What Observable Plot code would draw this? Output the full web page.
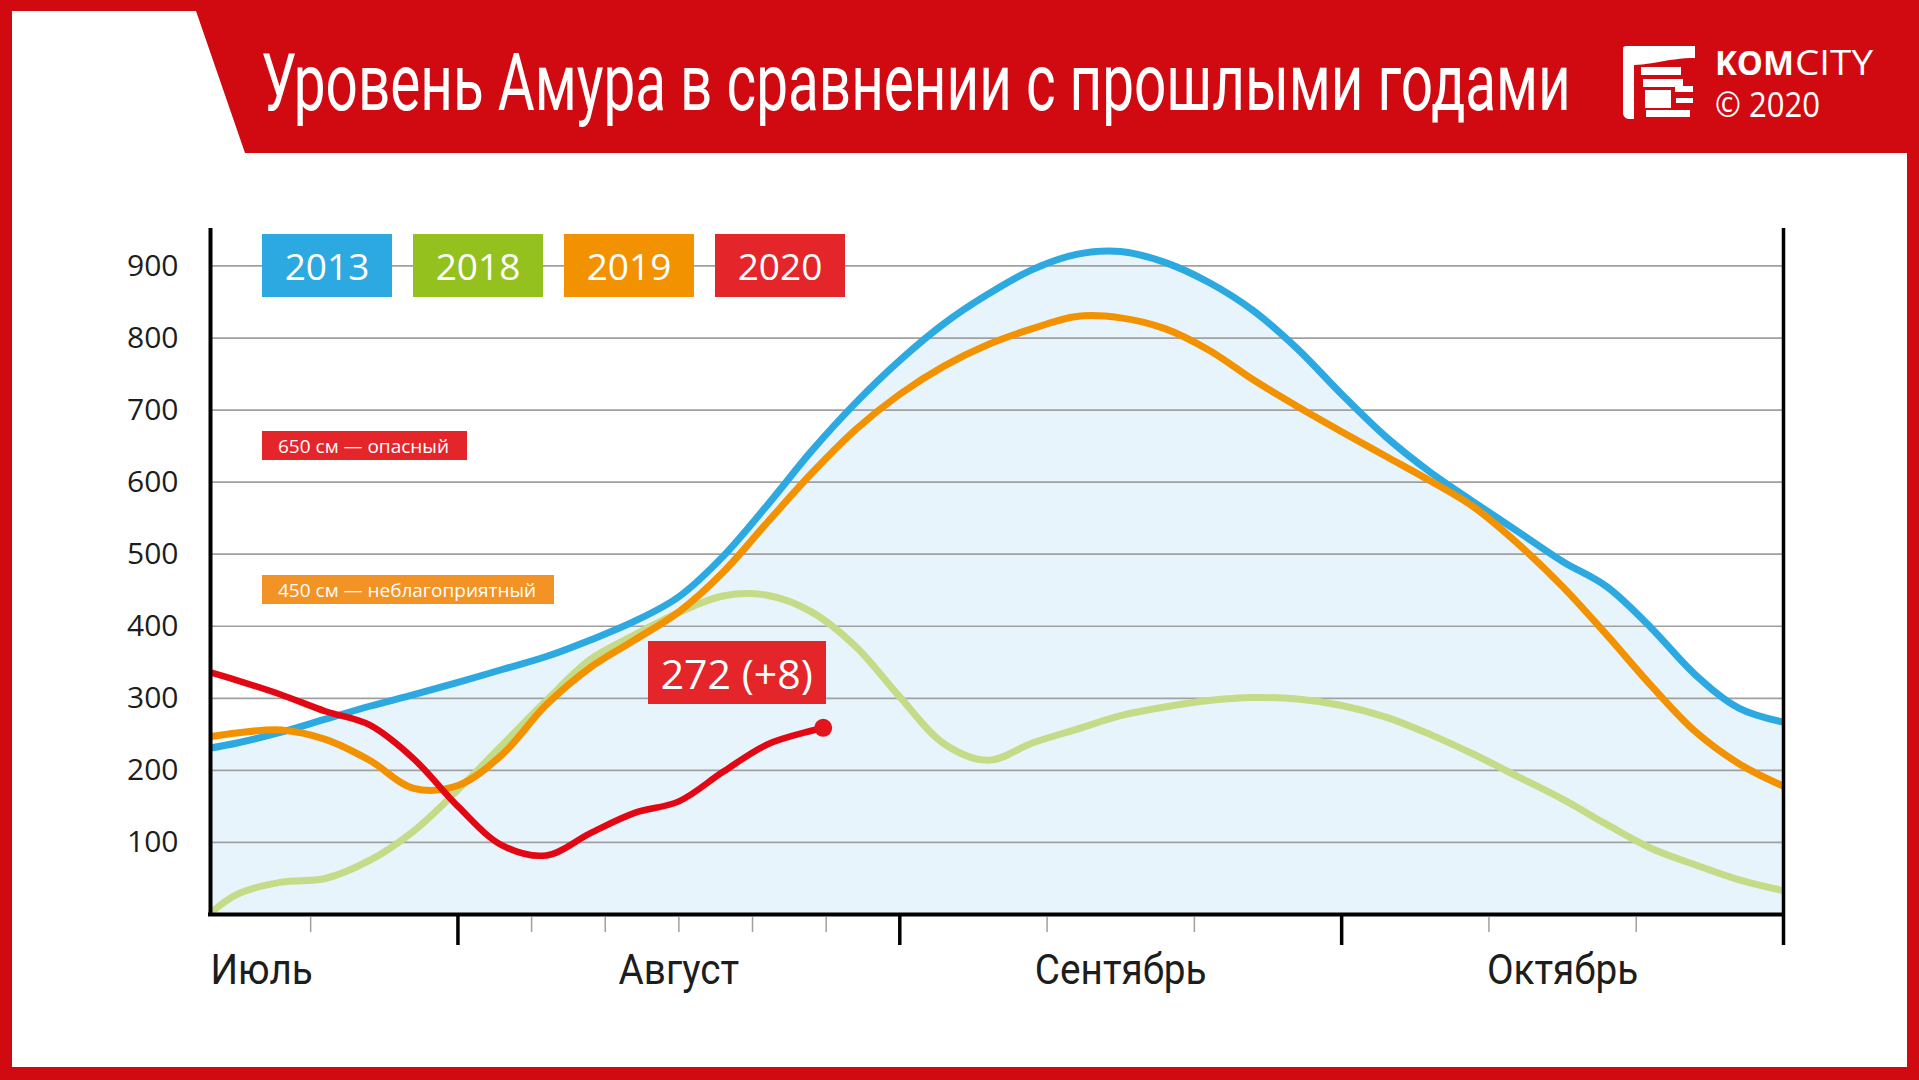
<!DOCTYPE html>
<html><head><meta charset="utf-8">
<script src="https://cdn.jsdelivr.net/npm/d3@7"></script>
<script src="https://cdn.jsdelivr.net/npm/@observablehq/plot@0.6"></script>
<style>
html,body{margin:0;padding:0;background:#fff;overflow:hidden;}
#wrap{position:relative;width:1919px;height:1080px;overflow:hidden;font-family:"Open Sans",sans-serif;}
#chart{position:absolute;left:0;top:0;}
#frame{position:absolute;left:0;top:0;pointer-events:none;}
.box{position:absolute;color:#fff;display:flex;align-items:center;white-space:nowrap;box-sizing:border-box;font-family:"Open Sans",sans-serif;}
</style></head><body><div id="wrap"><div id="chart"></div></div>
<script>
// ---- data ----
const title = "Уровень Амура в сравнении с прошлыми годами";
const days = [-16.8,-15,-12,-9,-6,-3,0,3,6,9,12,15,18,21,24,27,30,33,36,39,42,45,48,51,54,57,60,63,66,69,72,75,78,81,84,87,90];
const level2013 = [231,238,253,271,289,305,322,340,358,381,407,441,497,568,643,710,769,820,861,895,916,920,905,877,838,785,722,663,614,572,531,490,455,398,333,286,267];
const level2018 = [2,28,45,50,75,116,173,235,297,354,388,419,442,443,420,372,302,237,214,238,257,276,288,297,301,299,290,274,250,222,191,160,125,92,69,48,33];
const level2019 = [247,252,256,243,214,175,179,222,291,343,381,420,475,544,612,673,722,761,791,813,830,828,813,783,742,705,670,636,602,565,514,455,388,318,254,209,178];
const days2020 = [-16.8,-15,-12,-9,-6,-3,0,3,6,9,12,15,18,21,24,24.8];
const level2020 = [336,325,305,282,263,216,150,96,82,113,141,157,198,236,255,259];
const years = ["2013","2018","2019","2020"];
const yTicks = [100,200,300,400,500,600,700,800,900];
const months = ["Июль","Август","Сентябрь","Октябрь"];
const monthPos = [-16.8,15,45,75];
const majorTicks = [0,30,60];
const minorTicks = [-10,5,10,15,20,25,40,50,70,80];
const thresholds = [650,450];
const thresholdLabels = ["650 см — опасный","450 см — неблагоприятный"];
const latestValue = 272, latestChange = 8;
const brandBold = "KOM", brandLight = "CITY", copyright = "© 2020";

// ---- styles ----
const palette = {"2013":"#2DA9E1","2018":"#C5DB88","2019":"#F39200","2020":"#E30613"};
const boxColors = {"2013":"#2DA9E1","2018":"#95C11F","2019":"#F39200","2020":"#E4262B"};
const thresholdColors = ["#E4262B","#F39325"];
const curve = "catmull-rom";

const rows = (xsArr, ysArr) => xsArr.map((d,i)=>({day:d, level:ysArr[i]}));
const r2013 = rows(days, level2013), r2018 = rows(days, level2018), r2019 = rows(days, level2019), r2020 = rows(days2020, level2020);
const monthRows = months.map((m,i)=>({name:m, pos:monthPos[i]}));
const last = r2020[r2020.length-1];

const lineOpts = (color, w) => ({x:"day", y:"level", stroke:color, strokeWidth:w, curve, strokeLinecap:"butt", strokeLinejoin:"round"});

const chart = Plot.plot({
  width:1919, height:1080,
  marginLeft:210, marginRight:136, marginTop:228, marginBottom:166,
  x:{domain:[days[0], days[days.length-1]], axis:null},
  y:{domain:[0,952], axis:null},
  style:{background:"transparent", overflow:"visible"},
  marks:[
    Plot.areaY(r2013, {x:"day", y:"level", fill:"#E8F4FB", curve}),
    Plot.ruleY(yTicks, {stroke:"#a0a0a0", strokeWidth:1.7}),
    Plot.line(r2018, lineOpts(palette["2018"], 7)),
    Plot.line(r2013, lineOpts(palette["2013"], 7)),
    Plot.line(r2019, lineOpts(palette["2019"], 7)),
    Plot.line(r2020, lineOpts(palette["2020"], 6.5)),
    Plot.dot([last], {x:"day", y:"level", r:9, fill:"#E3141B"}),
    Plot.ruleY([0], {stroke:"#000", strokeWidth:4, insetLeft:-2, insetRight:-2}),
    Plot.ruleX([days[0]], {stroke:"#000", strokeWidth:4, insetBottom:-2}),
    Plot.ruleX([days[days.length-1]], {stroke:"#000", strokeWidth:3.5, insetBottom:-31}),
    Plot.ruleX(majorTicks, {y1:0, y2:0, insetBottom:-31, stroke:"#000", strokeWidth:3.5}),
    Plot.ruleX(minorTicks, {y1:0, y2:0, insetTop:3, insetBottom:-18, stroke:"#a0a0a0", strokeWidth:1.5}),
    Plot.text(yTicks, {frameAnchor:"left", y:d=>d, text:d=>String(d), textAnchor:"end", dx:-32, fontSize:30, fontFamily:"Open Sans", fill:"#1d1d1b"}),
    Plot.text(monthRows.slice(0,1), {x:"pos", text:"name", frameAnchor:"bottom", textAnchor:"start", lineAnchor:"bottom", dy:69, fontSize:43, fontFamily:"Roboto", fill:"#1d1d1b"}),
    Plot.text(monthRows.slice(1), {x:"pos", text:"name", frameAnchor:"bottom", textAnchor:"middle", lineAnchor:"bottom", dy:69, fontSize:43, fontFamily:"Roboto", fill:"#1d1d1b"})
  ]
});
const wrap = document.getElementById("wrap");
document.getElementById("chart").appendChild(chart);

// condense month labels
d3.select(chart).selectAll("text").each(function(){
  if (months.includes(this.textContent)) {
    const w = this.getComputedTextLength();
    this.setAttribute("textLength", (w*0.9).toFixed(1));
    this.setAttribute("lengthAdjust", "spacingAndGlyphs");
  }
});

const xs = chart.scale("x"), ys = chart.scale("y");
const x0 = xs.apply(days[0]);

// legend boxes (centred on the top gridline)
years.forEach((yr,i)=>{
  const b = document.createElement("div");
  b.className = "box";
  Object.assign(b.style, {left:(x0+52+i*151)+"px", top:(ys.apply(yTicks[yTicks.length-1])-31.5)+"px", width:"130px", height:"63px",
    background:boxColors[yr], justifyContent:"center", fontSize:"37px"});
  b.textContent = yr;
  wrap.appendChild(b);
});

// threshold annotations
thresholds.forEach((v,i)=>{
  const b = document.createElement("div");
  b.className = "box";
  Object.assign(b.style, {left:(x0+52)+"px", top:(ys.apply(v)-14.5)+"px", height:"29px", padding:"0 18px 0 16px",
    background:thresholdColors[i], fontSize:"19px"});
  b.textContent = thresholdLabels[i];
  wrap.appendChild(b);
});

// latest value label
{
  const b = document.createElement("div");
  b.className = "box";
  const right = xs.apply(last.day)+3, bottom = ys.apply(last.level)-23;
  Object.assign(b.style, {left:(right-178)+"px", top:(bottom-63)+"px", width:"178px", height:"63px",
    background:"#E4262B", justifyContent:"center", fontSize:"41px"});
  b.textContent = `${latestValue} (+${latestChange})`;
  wrap.appendChild(b);
}

// frame, banner, title and logo
const NS = "http://www.w3.org/2000/svg";
const frame = document.createElementNS(NS, "svg");
frame.setAttribute("id","frame"); frame.setAttribute("width",1919); frame.setAttribute("height",1080);
frame.innerHTML = `
  <path fill="#D10A11" d="M0 0H1919V153H245L196 11H12V1080H0Z"/>
  <rect x="1907" y="0" width="12" height="1080" fill="#D10A11"/>
  <rect x="0" y="1067" width="1919" height="13" fill="#D10A11"/>
  <g transform="translate(1623,46)" fill="#fff">
    <path d="M3 0H72V12C58 12 46 14 30 17C22 18 16 19 11 19V73H6C3 73 0 70 0 67V3C0 1 1 0 3 0Z"/>
    <rect x="18" y="21" width="40" height="8"/>
    <rect x="20" y="33" width="40" height="8"/>
    <rect x="22" y="44" width="26" height="18"/>
    <rect x="52" y="40" width="18" height="6"/>
    <rect x="53" y="52" width="17" height="5"/>
    <rect x="23" y="64" width="44" height="7"/>
  </g>
  <text font-family="Open Sans" font-size="34" fill="#fff">
    <tspan class="t1" x="1715" y="75" font-weight="700" textLength="79" lengthAdjust="spacingAndGlyphs"></tspan><tspan class="t2" x="1795" y="75" font-weight="400" textLength="78" lengthAdjust="spacingAndGlyphs"></tspan><tspan class="t3" x="1715" y="117" font-weight="400" textLength="105" lengthAdjust="spacingAndGlyphs"></tspan>
  </text>
`;
wrap.appendChild(frame);
frame.querySelector(".t1").textContent = brandBold;
frame.querySelector(".t2").textContent = brandLight;
frame.querySelector(".t3").textContent = copyright;

// condensed title: pick the font size that gives the target width, then stretch vertically
function fitText(str, x, y, size, family, weight, targetW) {
  const g = document.createElementNS(NS, "g");
  const t = document.createElementNS(NS, "text");
  t.setAttribute("font-family", family);
  t.setAttribute("font-size", size);
  t.setAttribute("font-weight", weight);
  t.setAttribute("fill", "#fff");
  t.textContent = str;
  g.appendChild(t);
  frame.appendChild(g);
  const w = t.getComputedTextLength();
  const fs = size * targetW / w;
  t.setAttribute("font-size", fs.toFixed(2));
  g.setAttribute("transform", `translate(${x},${y}) scale(1,${(size/fs).toFixed(4)})`);
}
fitText(title, 261, 110, 80, "Roboto", 400, 1310);
</script>
</body></html>
